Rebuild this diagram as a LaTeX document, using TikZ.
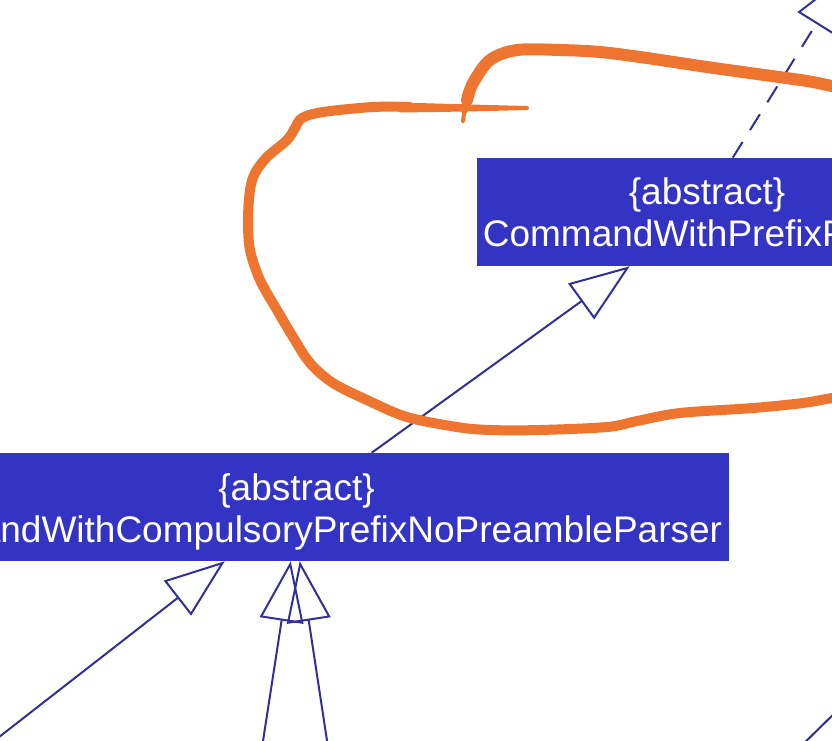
\documentclass[tikz,border=0pt]{standalone}
\usepackage{fontspec}
\setmainfont{Liberation Sans}
\usetikzlibrary{arrows.meta,calc}
\definecolor{boxblue}{HTML}{3333C4}
\definecolor{linkblue}{HTML}{303096}
\definecolor{penorange}{HTML}{ED7530}
\begin{document}
\begin{tikzpicture}[x=0.75pt,y=-0.75pt,
  classbox/.style={fill=boxblue, draw=none, inner sep=0pt, minimum height=81pt},
  lbl/.style={text=white, inner sep=0pt, anchor=base, font=\fontsize{27.75}{33}\selectfont},
  gen/.style={draw=linkblue, line width=1.5pt, -{Triangle[open, length=45pt, width=33pt]}},
  real/.style={gen, dash pattern=on 14pt off 10.5pt},
  plainlink/.style={draw=linkblue, line width=1.5pt},
  pen/.style={draw=penorange, line cap=round, line join=round}]
\useasboundingbox (0,0) rectangle (832,740);
\clip (0,0) rectangle (832,740);
\fill[white] (0,0) rectangle (832,740);

% class boxes
\node[classbox, minimum width=345pt] (cwpp) at (707,212) {};
\node[lbl] (cwpp1) at (707,204) {\{abstract\}};
\node[lbl] (cwpp2) at (707,246) {CommandWithPrefixParser};

\node[classbox, minimum width=648.75pt] (cwcp) at (296.5,507) {};
\node[lbl] (cwcp1) at (296.5,500) {\{abstract\}};
\node[lbl] (cwcp2) at (296.5,542) {CommandWithCompulsoryPrefixNoPreambleParser};

% off-picture ends of connectors
\coordinate (up) at (848,-27);
\coordinate (c1) at (-60,783);
\coordinate (c2) at (257,780);
\coordinate (c3) at (333,780);
\coordinate (c4a) at (790,757);
\coordinate (c4b) at (850,698);

% connectors
\draw[real] ($(cwpp.north west)+(256,0)$) -- (up);
\draw[gen] ($(cwcp.north west)+(508,0)$) -- ($(cwpp.south west)+(153,0)$);
\draw[gen] (c1) -- ($(cwcp.south west)+(361,0)$);
\draw[gen] (c2) -- ($(cwcp.south west)+(427,0)$);
\draw[gen] (c3) -- ($(cwcp.south west)+(436,0)$);
\draw[plainlink] (c4a) -- (c4b);

% hand-drawn orange loop
\draw[pen, line width=7.5pt] plot[smooth, tension=0.55] coordinates {
  (870,392) (832,398) (803,403) (753,408) (680,413) (637,421) (607,427)
  (540,430) (490,430) (457,427) (407,417) (367,400) (333,383) (310,363)
  (293,337) (277,310) (260,280) (250,250) (248,220) (250,190) (255,173)
  (267,157) (287,140) (295,128) (302,118) (323,112) (373,107) (410,107)};
\fill[penorange] (400,102.5) .. controls (470,104.5) .. (527,106) -- (527,110) .. controls (470,111.5) .. (400,112.5) -- cycle;
\fill[penorange] (527,108) circle [radius=2];
% second stroke
\draw[pen, line width=9pt] plot[smooth, tension=0.55] coordinates {
  (467,100) (473,83) (490,60) (517,50) (560,50) (600,52) (640,57)
  (707,67) (757,74) (807,81) (832,86) (870,93)};
\draw[pen, line width=3pt] (463,121) -- (466,100);
\draw[pen, line width=5.5pt] (464.5,110) -- (467,97);
\end{tikzpicture}
\end{document}
